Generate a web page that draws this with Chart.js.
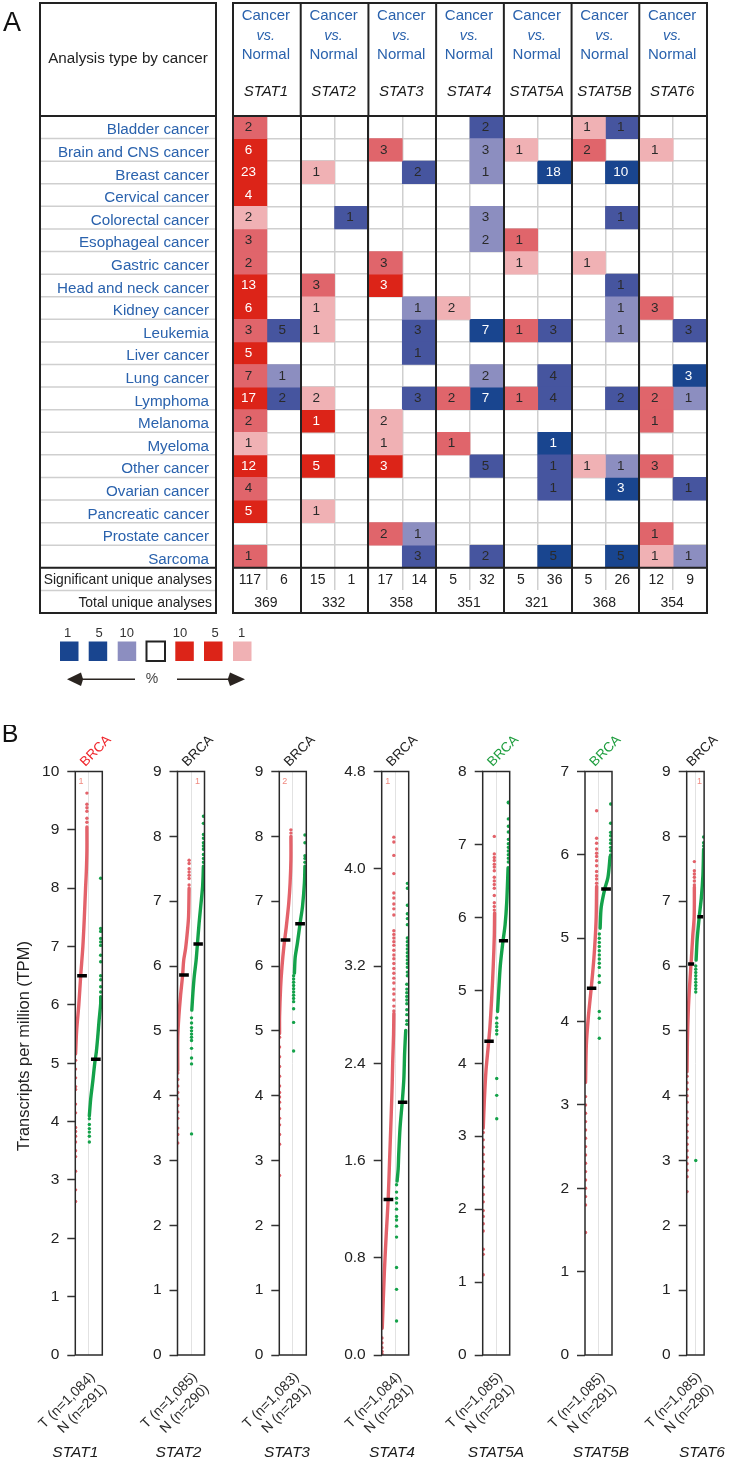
<!DOCTYPE html>
<html><head><meta charset="utf-8">
<script src="https://cdn.jsdelivr.net/npm/chart.js@4/dist/chart.umd.min.js"></script>
<style>html,body{margin:0;padding:0;background:#fff}#page{position:relative;width:730px;height:1460px;overflow:hidden}canvas{position:absolute}</style>
</head><body><div id="page"></div>
<script>
// ---------- Panel A data ----------
const cancers=['Bladder cancer','Brain and CNS cancer','Breast cancer','Cervical cancer','Colorectal cancer','Esophageal cancer','Gastric cancer','Head and neck cancer','Kidney cancer','Leukemia','Liver cancer','Lung cancer','Lymphoma','Melanoma','Myeloma','Other cancer','Ovarian cancer','Pancreatic cancer','Prostate cancer','Sarcoma'];
const footerRows=['Significant unique analyses','Total unique analyses'];
const genes=['STAT1','STAT2','STAT3','STAT4','STAT5A','STAT5B','STAT6'];
const stat1Up=[2,6,23,4,2,3,2,13,6,3,5,7,17,2,1,12,4,5,0,1];
const stat1UpShade=[2,3,3,3,1,2,2,3,3,2,3,2,3,2,1,3,2,3,0,2];
const stat1Down=[0,0,0,0,0,0,0,0,0,5,0,1,2,0,0,0,0,0,0,0];
const stat1DownShade=[0,0,0,0,0,0,0,0,0,2,0,1,2,0,0,0,0,0,0,0];
const stat2Up=[0,0,1,0,0,0,0,3,1,1,0,0,2,1,0,5,0,1,0,0];
const stat2UpShade=[0,0,1,0,0,0,0,2,1,1,0,0,1,3,0,3,0,1,0,0];
const stat2Down=[0,0,0,0,1,0,0,0,0,0,0,0,0,0,0,0,0,0,0,0];
const stat2DownShade=[0,0,0,0,2,0,0,0,0,0,0,0,0,0,0,0,0,0,0,0];
const stat3Up=[0,3,0,0,0,0,3,3,0,0,0,0,0,2,1,3,0,0,2,0];
const stat3UpShade=[0,2,0,0,0,0,2,3,0,0,0,0,0,1,1,3,0,0,2,0];
const stat3Down=[0,0,2,0,0,0,0,0,1,3,1,0,3,0,0,0,0,0,1,3];
const stat3DownShade=[0,0,2,0,0,0,0,0,1,2,2,0,2,0,0,0,0,0,1,2];
const stat4Up=[0,0,0,0,0,0,0,0,2,0,0,0,2,0,1,0,0,0,0,0];
const stat4UpShade=[0,0,0,0,0,0,0,0,1,0,0,0,2,0,2,0,0,0,0,0];
const stat4Down=[2,3,1,0,3,2,0,0,0,7,0,2,7,0,0,5,0,0,0,2];
const stat4DownShade=[2,1,1,0,1,1,0,0,0,3,0,1,3,0,0,2,0,0,0,2];
const stat5aUp=[0,1,0,0,0,1,1,0,0,1,0,0,1,0,0,0,0,0,0,0];
const stat5aUpShade=[0,1,0,0,0,2,1,0,0,2,0,0,2,0,0,0,0,0,0,0];
const stat5aDown=[0,0,18,0,0,0,0,0,0,3,0,4,4,0,1,1,1,0,0,5];
const stat5aDownShade=[0,0,3,0,0,0,0,0,0,2,0,2,2,0,3,2,2,0,0,3];
const stat5bUp=[1,2,0,0,0,0,1,0,0,0,0,0,0,0,0,1,0,0,0,0];
const stat5bUpShade=[1,2,0,0,0,0,1,0,0,0,0,0,0,0,0,1,0,0,0,0];
const stat5bDown=[1,0,10,0,1,0,0,1,1,1,0,0,2,0,0,1,3,0,0,5];
const stat5bDownShade=[2,0,3,0,2,0,0,2,1,1,0,0,2,0,0,1,3,0,0,3];
const stat6Up=[0,1,0,0,0,0,0,0,3,0,0,0,2,1,0,3,0,0,1,1];
const stat6UpShade=[0,1,0,0,0,0,0,0,2,0,0,0,2,2,0,2,0,0,2,1];
const stat6Down=[0,0,0,0,0,0,0,0,0,3,0,3,1,0,0,0,1,0,0,1];
const stat6DownShade=[0,0,0,0,0,0,0,0,0,2,0,3,1,0,0,0,2,0,0,1];
const significantUp=[117,15,17,5,5,5,12];
const significantDown=[6,1,14,32,36,26,9];
const totalAnalyses=[369,332,358,351,321,368,354];
const legendLabels=['1','5','10','','10','5','1'];

// ---------- Panel B data: [x within the plot (0..1), TPM] ----------
const stat1TumorCurve=[[.43,9.05],[.43,8.65],[.41,8.3],[.38,8.0],[.33,7.45],[.28,7.0],[.2,6.5],[.13,6.0],[.05,5.56],[.01,5.16]];
const stat1TumorDots=[[.43,[9.63,9.44,9.38,9.32,9.2,9.13]],[.01,[5.05,4.9,4.75,4.6,4.55,4.3,4.15,3.9,3.83,3.75,3.65,3.5,3.4,3.15,2.83,2.63]]];
const stat1NormalCurve=[[.94,6.14],[.94,6.02],[.88,5.73],[.84,5.5],[.78,5.2],[.72,5.0],[.65,4.7],[.57,4.39],[.52,4.1]];
const stat1NormalDots=[[.94,[8.17,7.31,7.26,7.14,7.08,7.02,6.85,6.74,6.5,6.43,6.31,6.22]],[.52,[4.05,3.95,3.88,3.82,3.75,3.65]]];
const stat2TumorCurve=[[.43,7.2],[.41,6.76],[.37,6.55],[.3,6.27],[.23,6.09],[.19,5.86],[.11,5.53],[.05,5.22],[.01,4.9],[.01,4.39]];
const stat2TumorDots=[[.43,[7.63,7.58,7.5,7.45,7.4,7.35,7.25]],[.01,[4.35,4.25,4.15,4.05,3.95,3.85,3.75,3.65,3.5,3.4,3.27]]];
const stat2NormalCurve=[[.96,7.54],[.93,7.23],[.86,6.92],[.8,6.66],[.74,6.35],[.69,6.09],[.62,5.84],[.57,5.58],[.53,5.32]];
const stat2NormalDots=[[.96,[8.31,8.2,8.03,7.97,7.9,7.85,7.8,7.72,7.66,7.6]],[.52,[5.2,5.12,5.05,5.0,4.95,4.9,4.85,4.73,4.58,4.49,3.41]]];
const stat3TumorCurve=[[.43,8.0],[.43,7.64],[.4,7.28],[.35,6.97],[.26,6.61],[.17,6.3],[.1,5.99],[.05,5.68],[.01,5.22],[.01,4.96]];
const stat3TumorDots=[[.43,[8.1,8.05]],[.01,[4.9,4.75,4.6,4.45,4.3,4.15,4.05,3.98,3.9,3.8,3.65,3.55,3.4,3.25,2.77]]];
const stat3NormalCurve=[[.95,7.54],[.93,7.28],[.86,6.92],[.77,6.66],[.67,6.35],[.59,6.14],[.56,5.89]];
const stat3NormalDots=[[.95,[8.02,7.9,7.7,7.66,7.6]],[.53,[5.85,5.8,5.75,5.7,5.65,5.6,5.55,5.5,5.45,5.34,5.13,4.69]]];
const stat4TumorCurve=[[.45,2.81],[.44,2.64],[.41,2.43],[.39,2.24],[.35,1.96],[.29,1.59],[.24,1.28],[.17,1.0],[.1,.69],[.02,.22]];
const stat4TumorDots=[[.45,[4.26,4.22,4.11,3.96,3.8,3.76,3.71,3.67,3.62,3.49,3.46,3.43,3.4,3.37,3.33,3.29,3.26,3.22,3.18,3.14,3.1,3.06,3.01,2.97,2.92,2.87,2.83]],[.01,[.14,.1,.06,.03,.01]]];
const stat4NormalCurve=[[.89,2.67],[.85,2.49],[.82,2.27],[.76,2.08],[.68,1.87],[.63,1.65],[.61,1.53],[.57,1.43]];
const stat4NormalDots=[[.95,[3.88,3.84,3.7,3.63,3.59,3.54,3.43,3.4,3.37,3.34,3.31,3.28,3.25,3.22,3.19,3.15,3.12]],[.93,[3.05,3.01,2.98,2.95,2.92,2.89,2.84,2.8,2.75,2.72]],[.55,[1.4,1.34,1.29,1.25,1.2,1.14,1.11,1.06,.97,.72,.54,.28]]];
const stat5aTumorCurve=[[.44,6.06],[.43,5.75],[.39,5.33],[.33,4.87],[.27,4.51],[.21,4.25],[.12,3.89],[.06,3.48],[.02,3.11]];
const stat5aTumorDots=[[.43,[7.11,6.87,6.82,6.78,6.73,6.69,6.64,6.55,6.5,6.45,6.4,6.3,6.2,6.15,6.1]],[.02,[3.05,2.95,2.85,2.75,2.65,2.55,2.45,2.3,2.2,2.1,1.98,1.9,1.8,1.7,1.45,1.38,1.1]]];
const stat5aNormalCurve=[[.94,6.68],[.89,6.21],[.83,5.9],[.74,5.64],[.65,5.33],[.59,4.97],[.55,4.71]];
const stat5aNormalDots=[[.95,[7.58,7.57,7.35,7.25,7.17,7.07,7.01,6.96,6.91,6.86,6.81,6.76]],[.52,[4.62,4.55,4.5,4.45,4.4,3.79,3.56,3.24]]];
const stat5bTumorCurve=[[.43,5.62],[.41,5.21],[.33,4.76],[.23,4.4],[.12,4.04],[.05,3.72],[.02,3.27]];
const stat5bTumorDots=[[.43,[6.53,6.2,6.14,6.07,6.02,5.98,5.93,5.87,5.8,5.75,5.71,5.66]],[.02,[3.1,3.0,2.9,2.8,2.7,2.6,2.5,2.4,2.3,2.2,2.1,2.0,1.9,1.8,1.47]]];
const stat5bNormalCurve=[[.93,5.98],[.85,5.73],[.73,5.59],[.6,5.37],[.56,5.12]];
const stat5bNormalDots=[[.95,[6.61,6.38,6.27,6.23,6.18,6.14,6.09,6.05,6.0]],[.53,[5.05,5.0,4.95,4.9,4.85,4.8,4.75,4.7,4.65,4.55,4.47,4.12,4.04,3.8]]];
const stat6TumorCurve=[[.44,7.22],[.43,6.76],[.35,6.47],[.27,6.12],[.17,5.71],[.09,5.3],[.04,4.84],[.02,4.37]];
const stat6TumorDots=[[.44,[7.61,7.47,7.42,7.37,7.31,7.25]],[.02,[4.3,4.2,4.1,4.0,3.9,3.75,3.65,3.55,3.45,3.35,3.25,3.15,3.05,2.95,2.85,2.75,2.52]]];
const stat6NormalCurve=[[.97,7.8],[.93,7.4],[.84,7.05],[.72,6.76],[.6,6.41],[.54,6.09]];
const stat6NormalDots=[[.97,[7.99,7.9,7.85]],[.52,[6.0,5.95,5.9,5.85,5.8,5.75,5.7,5.65,5.6,3.0]]];
const tumorMedians=[6.5,5.86,6.4,1.28,4.3,4.4,6.03];
const normalMedians=[5.07,6.34,6.65,2.08,5.68,5.59,6.76];
const yMaxima=[10,9,9,4.8,8,7,9];
const yTickSteps=[1,1,1,.8,1,1,1];
const tumorCounts=['T (n=1,084)','T (n=1,085)','T (n=1,083)','T (n=1,084)','T (n=1,085)','T (n=1,085)','T (n=1,085)'];
const normalCounts=['N (n=291)','N (n=290)','N (n=291)','N (n=291)','N (n=291)','N (n=291)','N (n=290)'];
const cohortColors=['#f0262c','#222222','#222222','#222222','#1f9e3f','#1f9e3f','#222222'];
const cornerNotes=[{t:'1',x:.21},{t:'1',x:.74},{t:'2',x:.2},{t:'1',x:.22},null,null,{t:'1',x:.74}];

// ---------- Layout and style ----------
const FONT='"Liberation Sans", Arial, sans-serif';
const INK='#222222', BLUE='#2a62ad', GRID='#cfcfcf';
const RED=[null,'#f0b1b4','#e0656b','#dc2418'];
const NAVY=[null,'#8c8ec0','#46559f','#19458f'];
const page=document.getElementById('page');
function addCanvas(l,t,w,h){const c=document.createElement('canvas');c.width=w;c.height=h;c.style.cssText=`left:${l}px;top:${t}px;width:${w}px;height:${h}px`;page.appendChild(c);return c;}
function label(ctx,txt,x,y,font,color,align,rot){ctx.save();ctx.font=font;ctx.fillStyle=color;ctx.textAlign=align||'center';ctx.textBaseline='middle';ctx.translate(x,y);if(rot)ctx.rotate(rot);ctx.fillText(txt,0,0);ctx.restore();}

// ---------- Panel A ----------
const upCols=[stat1Up,stat2Up,stat3Up,stat4Up,stat5aUp,stat5bUp,stat6Up];
const upShades=[stat1UpShade,stat2UpShade,stat3UpShade,stat4UpShade,stat5aUpShade,stat5bUpShade,stat6UpShade];
const downCols=[stat1Down,stat2Down,stat3Down,stat4Down,stat5aDown,stat5bDown,stat6Down];
const downShades=[stat1DownShade,stat2DownShade,stat3DownShade,stat4DownShade,stat5aDownShade,stat5bDownShade,stat6DownShade];
const rowLabels=cancers.concat(footerRows);
const cells=[];
genes.forEach((g,gi)=>{cancers.forEach((c,r)=>{
  if(upCols[gi][r])cells.push({row:c,col:gi*2,v:upCols[gi][r],s:upShades[gi][r],pal:RED});
  if(downCols[gi][r])cells.push({row:c,col:gi*2+1,v:downCols[gi][r],s:downShades[gi][r],pal:NAVY});
});});
const barSets=[];
[RED,NAVY].forEach(pal=>[1,2,3].forEach(s=>{
  barSets.push({data:cells.filter(c=>c.pal===pal&&c.s===s).map(c=>({y:c.row,x:[c.col,c.col+1]})),backgroundColor:pal[s],borderWidth:0,grouped:false,barPercentage:1,categoryPercentage:1});
}));
barSets.push({data:totalAnalyses.map((t,i)=>({y:footerRows[1],x:[i*2,i*2+2]})),backgroundColor:'#ffffff',borderWidth:0,grouped:false,barPercentage:1,categoryPercentage:1});

const panelAExtras={id:'panelAExtras',afterDraw(chart){
  const ctx=chart.ctx,X=chart.scales.x,Y=chart.scales.y,a=chart.chartArea;
  const T=3,edge=i=>Y.getPixelForValue(i-.5);
  const regular=s=>`${s}px ${FONT}`,ital=s=>`italic ${s}px ${FONT}`;
  ctx.strokeStyle=GRID;ctx.lineWidth=1.5;
  for(let i=1;i<22;i++){ctx.beginPath();ctx.moveTo(40,edge(i));ctx.lineTo(216,edge(i));ctx.stroke();}
  ctx.strokeStyle=INK;ctx.lineWidth=2;
  ctx.strokeRect(40,T,176,a.bottom-T);
  ctx.strokeRect(a.left,T,a.right-a.left,a.bottom-T);
  [[40,216],[a.left,a.right]].forEach(([l,r])=>{[a.top,edge(20)].forEach(y=>{ctx.beginPath();ctx.moveTo(l,y);ctx.lineTo(r,y);ctx.stroke();});});
  genes.forEach((g,i)=>{const x=X.getPixelForValue(i*2);ctx.beginPath();ctx.moveTo(x,T);ctx.lineTo(x,a.top);ctx.stroke();});
  label(ctx,'A',12,24,regular(27),'#111','center');
  label(ctx,'Analysis type by cancer',128,59,regular(15.2),INK);
  genes.forEach((g,i)=>{const x=X.getPixelForValue(i*2+1)-1;
    label(ctx,'Cancer',x,16,regular(15),BLUE);
    label(ctx,'vs.',x,36,ital(14.5),BLUE);
    label(ctx,'Normal',x,55,regular(15),BLUE);
    label(ctx,g,x,92,ital(15),'#1a1a1a');
  });
  cells.forEach(c=>{const white=c.s===3&&c.row!=='Sarcoma';
    label(ctx,String(c.v),X.getPixelForValue(c.col+.5)-1.5,Y.getPixelForValue(c.row),regular(13.5),white?'#ffffff':'#2a2a2a');});
  label(ctx,footerRows[0],212,Y.getPixelForValue(20)+1,regular(13.9),INK,'right');
  label(ctx,footerRows[1],212,Y.getPixelForValue(21)+1,regular(13.9),INK,'right');
  genes.forEach((g,i)=>{
    label(ctx,String(significantUp[i]),X.getPixelForValue(i*2+.5),Y.getPixelForValue(20)+1,regular(14),INK);
    label(ctx,String(significantDown[i]),X.getPixelForValue(i*2+1.5),Y.getPixelForValue(20)+1,regular(14),INK);
    label(ctx,String(totalAnalyses[i]),X.getPixelForValue(i*2+1)-1,Y.getPixelForValue(21)+1,regular(14),INK);
  });
  const keyX=[60,88.7,117.7,146.5,175.3,204,233],keyC=[NAVY[3],NAVY[3],NAVY[1],'#fff',RED[3],RED[3],RED[1]],keyL=[67.7,99,126.7,0,180,215,241.7];
  keyX.forEach((x,i)=>{
    ctx.fillStyle=keyC[i];ctx.fillRect(x,641.5,18.5,19.5);
    if(i===3){ctx.strokeStyle=INK;ctx.lineWidth=2;ctx.strokeRect(x,641.5,18.5,19.5);}
    if(legendLabels[i])label(ctx,legendLabels[i],keyL[i],633.5,regular(13),'#333');
  });
  label(ctx,'%',152,679,regular(14),'#444');
  ctx.strokeStyle='#2a2420';ctx.fillStyle='#2a2420';ctx.lineWidth=1.5;
  [[135,78,67,81],[177,234,245,230]].forEach(([s,e,tip,base])=>{
    ctx.beginPath();ctx.moveTo(s,679.3);ctx.lineTo(e,679.3);ctx.stroke();
    const n=base+(tip-base)*-.15;
    ctx.beginPath();ctx.moveTo(tip,679.3);ctx.lineTo(base,672.6);ctx.lineTo(n,679.3);ctx.lineTo(base,686);ctx.closePath();ctx.fill();
  });
}};
new Chart(addCanvas(0,0,730,700),{type:'bar',data:{labels:rowLabels,datasets:barSets},plugins:[panelAExtras],
 options:{indexAxis:'y',responsive:false,animation:false,events:[],
  layout:{padding:{top:116,right:23,bottom:87,left:0}},
  plugins:{legend:{display:false},tooltip:{enabled:false}},
  scales:{
   x:{type:'linear',min:0,max:14,position:'bottom',ticks:{stepSize:1,display:false},border:{display:false},grid:{color:GRID,lineWidth:1.5,drawTicks:false,z:-1},afterFit(s){s.height=0;}},
   x2:{type:'linear',min:0,max:14,position:'bottom',ticks:{stepSize:2,display:false},border:{display:false},grid:{color:INK,lineWidth:2,drawTicks:false,z:1},afterFit(s){s.height=0;}},
   y:{type:'category',offset:true,border:{display:false},grid:{color:GRID,lineWidth:1.5,drawTicks:false,offset:true,z:-1},
      ticks:{autoSkip:false,padding:24,labelOffset:3,color:BLUE,font:{family:FONT,size:15.2},callback(v,i){return i<cancers.length?this.getLabelForValue(v):'';}},
      afterFit(s){s.width=233;}}
  }}});

// ---------- Panel B ----------
const plotLefts=[75.3,177.5,279.3,381.7,482.7,585,686.7];
const PLOT_W=27.4,GUTTER=75,TOP=725,H=735;
const tumorCurves=[stat1TumorCurve,stat2TumorCurve,stat3TumorCurve,stat4TumorCurve,stat5aTumorCurve,stat5bTumorCurve,stat6TumorCurve];
const tumorDots=[stat1TumorDots,stat2TumorDots,stat3TumorDots,stat4TumorDots,stat5aTumorDots,stat5bTumorDots,stat6TumorDots];
const normalCurves=[stat1NormalCurve,stat2NormalCurve,stat3NormalCurve,stat4NormalCurve,stat5aNormalCurve,stat5bNormalCurve,stat6NormalCurve];
const normalDots=[stat1NormalDots,stat2NormalDots,stat3NormalDots,stat4NormalDots,stat5aNormalDots,stat5bNormalDots,stat6NormalDots];
const tumorBars=[[.07,.43],[.06,.42],[.05,.41],[.07,.43],[.06,.41],[.07,.42],[.08,.43]];
const normalBars=[[.58,.94],[.59,.94],[.59,.95],[.6,.95],[.6,.94],[.6,.96],[.61,.95]];
const geneLabelCentres=[75.3,178.5,287,392,496,601,702];
const RED_DOT='#e3626a',GREEN_DOT='#14a24a';
const flat=g=>g.flatMap(([x,ys])=>ys.map(y=>({x,y})));
const pts=c=>c.map(([x,y])=>({x,y}));

genes.forEach((gene,i)=>{
  const canvasLeft=Math.floor(plotLefts[i])-GUTTER;
  const W=Math.min(730-canvasLeft,GUTTER+PLOT_W+40);
  const yAxisW=plotLefts[i]-canvasLeft;
  const curve=(c,col)=>({type:'scatter',showLine:true,data:pts(c),borderColor:col,borderWidth:3.4,tension:.3,pointRadius:0,borderCapStyle:'round'});
  const dots=(d,col)=>({type:'scatter',showLine:false,data:flat(d),backgroundColor:col,borderWidth:0,pointRadius:1.7});
  const bar=(b,m)=>({type:'scatter',showLine:true,data:[{x:b[0],y:m},{x:b[1],y:m}],borderColor:'#000',borderWidth:3.5,pointRadius:0,tension:0});
  const extras={id:'plotExtras',afterDraw(chart){
    const ctx=chart.ctx,a=chart.chartArea,X=chart.scales.x;
    ctx.save();ctx.strokeStyle='#2a2a2a';ctx.lineWidth=1.5;ctx.strokeRect(a.left,a.top,a.right-a.left,a.bottom-a.top);ctx.restore();
    const cx=(a.left+a.right)/2;
    label(ctx,'BRCA',cx+7,26,`13.5px ${FONT}`,cohortColors[i],'center',-Math.PI/4);
    label(ctx,gene,geneLabelCentres[i]-canvasLeft,728,`italic 15.5px ${FONT}`,'#1a1a1a');
    const n=cornerNotes[i];
    if(n)label(ctx,n.t,X.getPixelForValue(n.x),a.top+10,`9px ${FONT}`,'#f0897f');
    if(i===0){
      label(ctx,'B',10,10,`25px ${FONT}`,'#111');
      label(ctx,'Transcripts per million (TPM)',24,321,`16.4px ${FONT}`,INK,'center',-Math.PI/2);
    }
  }};
  new Chart(addCanvas(canvasLeft,TOP,W,H),{type:'scatter',
   // Chart.js paints the first dataset last, so the median bars go first to sit on top.
   data:{datasets:[bar(tumorBars[i],tumorMedians[i]),bar(normalBars[i],normalMedians[i]),dots(tumorDots[i],RED_DOT),curve(tumorCurves[i],RED_DOT),dots(normalDots[i],GREEN_DOT),curve(normalCurves[i],GREEN_DOT)]},
   plugins:[extras],
   options:{responsive:false,animation:false,events:[],
    layout:{padding:{top:46.5,right:W-yAxisW-PLOT_W,bottom:0,left:0}},
    plugins:{legend:{display:false},tooltip:{enabled:false}},
    scales:{
     x:{type:'linear',min:0,max:1,border:{display:false},
        grid:{color:c=>c.tick&&c.tick.value===.5?'#e2e2e2':'rgba(0,0,0,0)',lineWidth:1,drawTicks:false},
        ticks:{stepSize:.5,autoSkip:false,minRotation:45,maxRotation:45,padding:14,labelOffset:4,color:'#2a2a2a',font:{family:FONT,size:14},
          callback:v=>v===.5?[tumorCounts[i],normalCounts[i]]:''},
        afterFit(s){s.height=105;}},
     y:{type:'linear',min:0,max:yMaxima[i],border:{display:false},
        grid:{drawOnChartArea:false,drawTicks:true,tickLength:8,tickWidth:1.5,tickColor:'#333'},
        ticks:{stepSize:yTickSteps[i],padding:8,color:INK,font:{family:FONT,size:15.5},callback:v=>yTickSteps[i]===1?String(v):v.toFixed(1)},
        afterFit(s){s.width=yAxisW;}}
    }}});
});
</script></body></html>
